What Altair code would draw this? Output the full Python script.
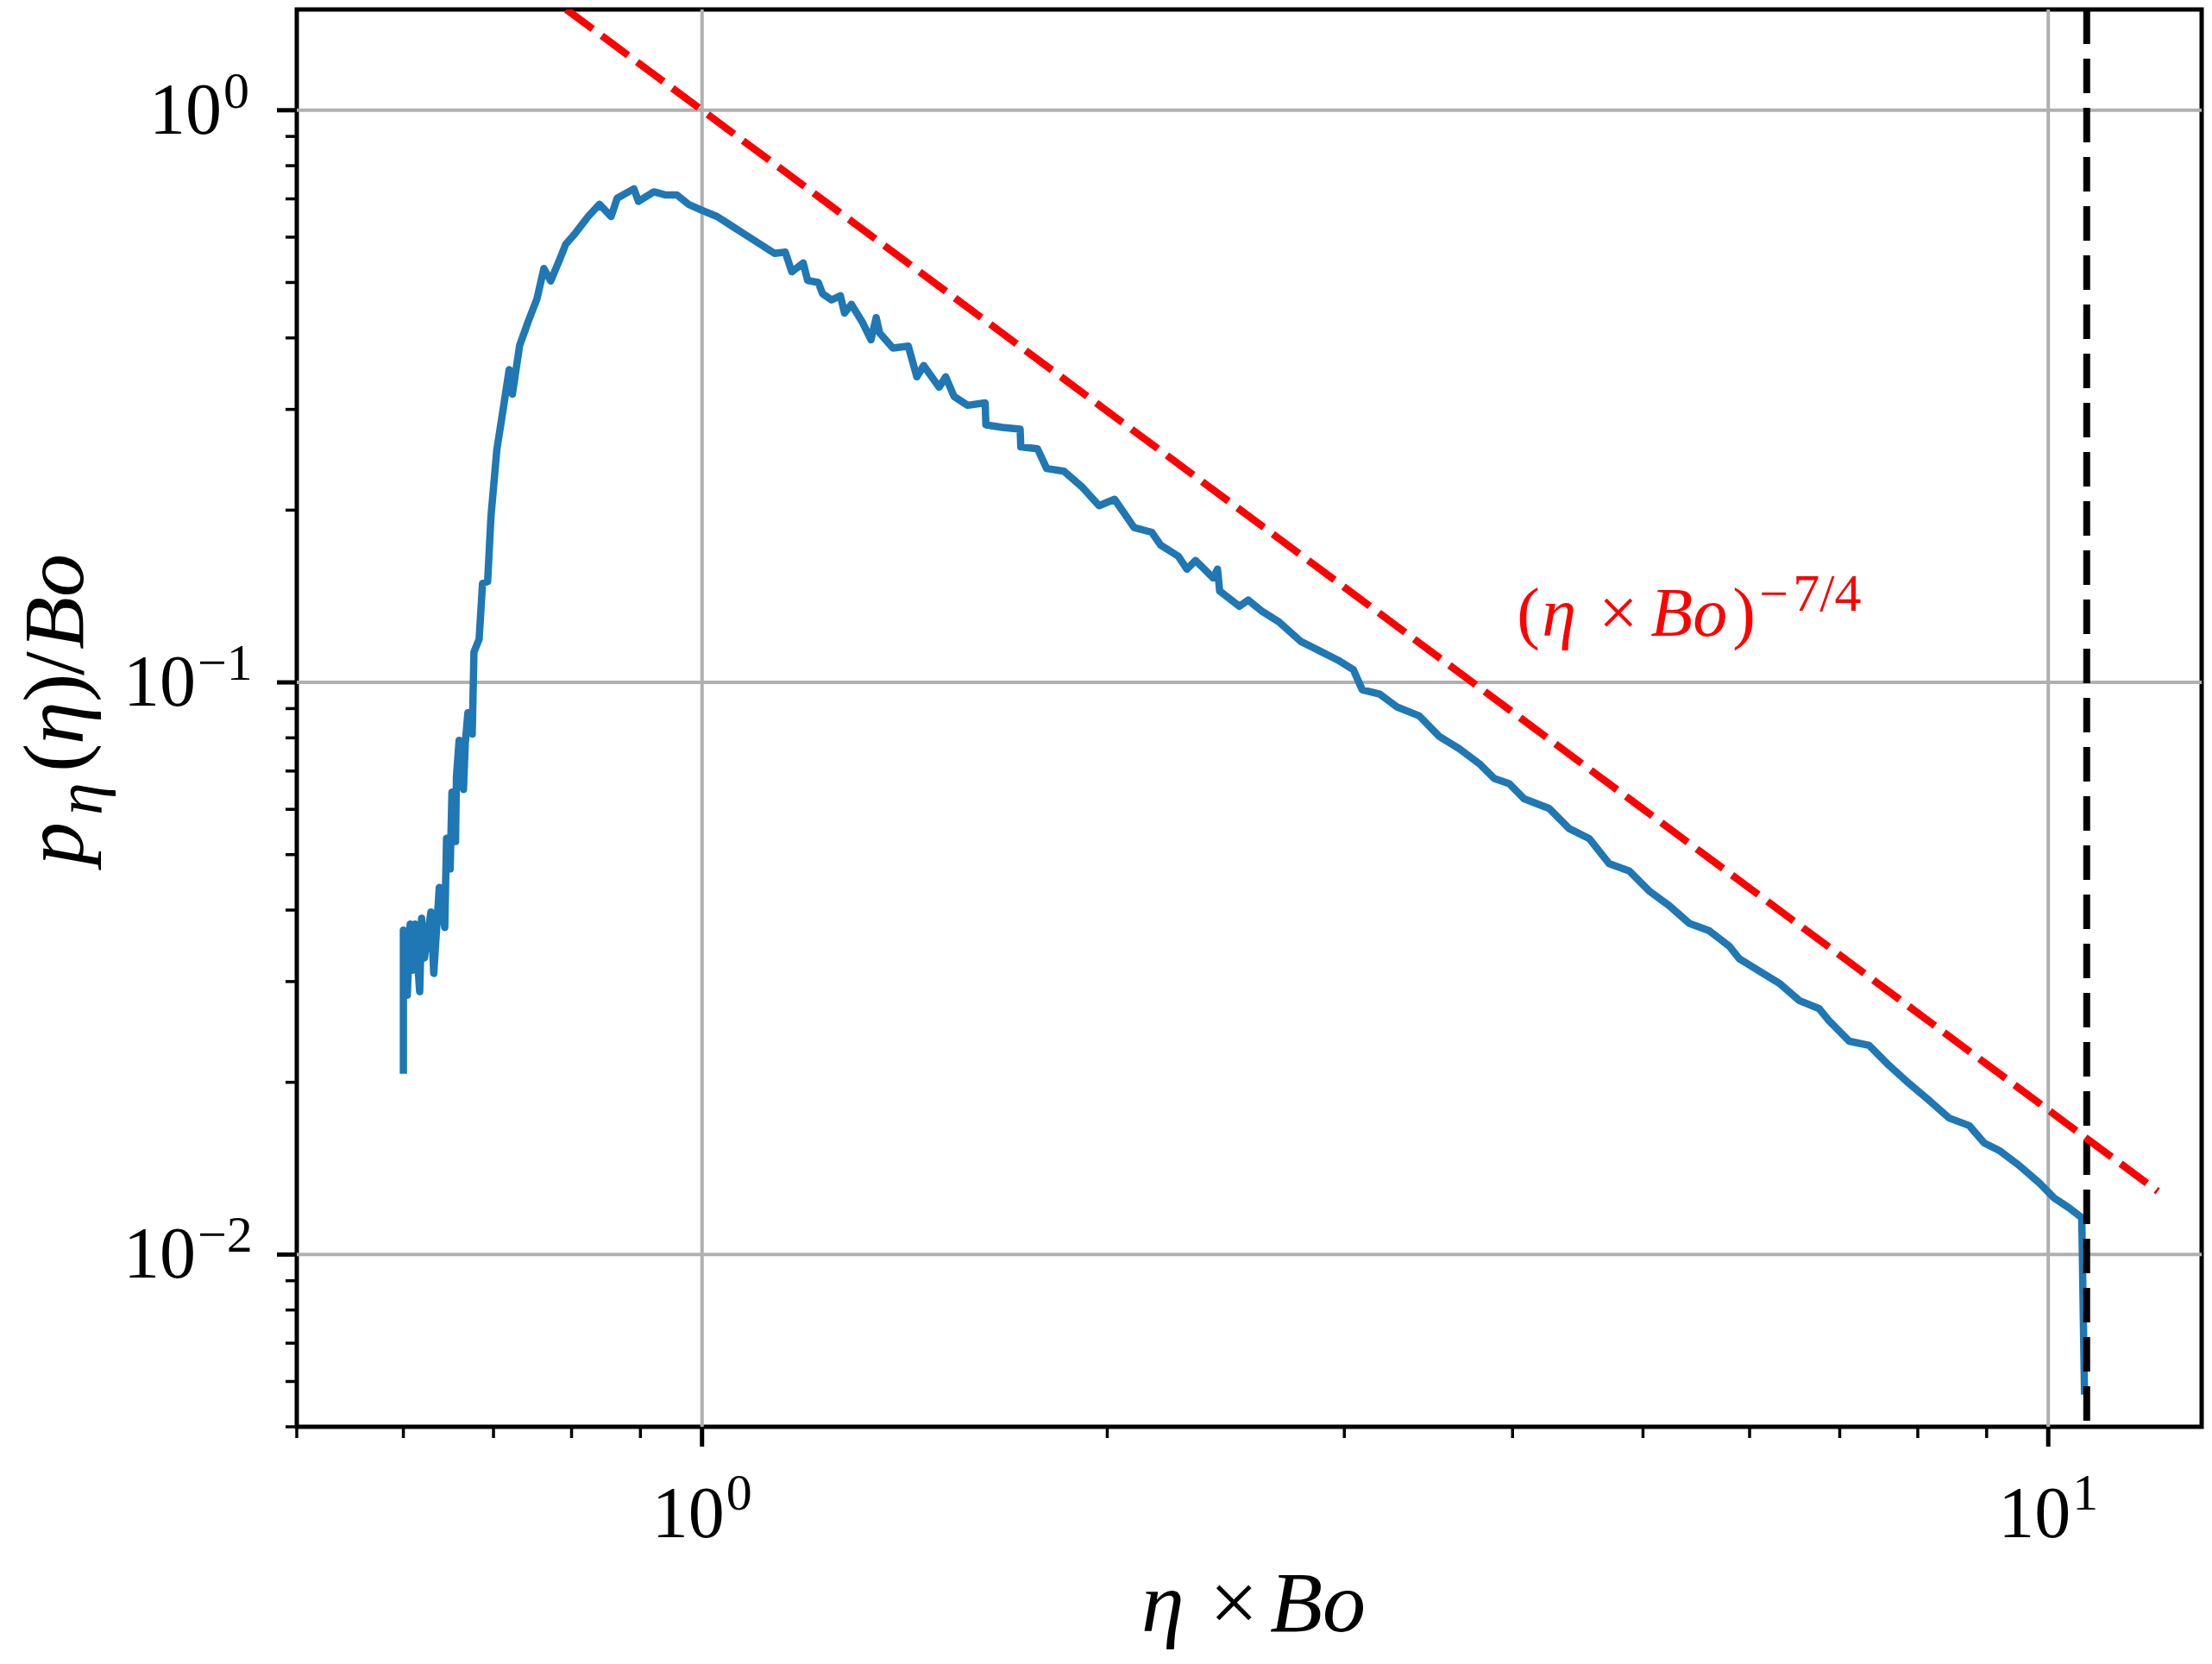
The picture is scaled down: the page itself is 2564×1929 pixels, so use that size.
import altair as alt
import pandas as pd

FONT = "Liberation Serif"

# ---- data ----
blue_x = [0.600, 0.600, 0.604, 0.607, 0.609, 0.612, 0.617, 0.619, 0.622, 0.629,
          0.632, 0.638, 0.644, 0.646, 0.650, 0.652, 0.656, 0.657, 0.660, 0.665,
          0.667, 0.670, 0.675, 0.677, 0.683, 0.687, 0.693, 0.697, 0.704, 0.711,
          0.719, 0.723, 0.732, 0.743, 0.754, 0.763, 0.772, 0.784, 0.792, 0.803,
          0.823, 0.839, 0.856, 0.865, 0.890, 0.897, 0.921, 0.940, 0.958, 0.977,
          1.001, 1.026, 1.052, 1.078, 1.105, 1.132, 1.153, 1.166, 1.189, 1.198,
          1.220, 1.229, 1.248, 1.267, 1.276, 1.291, 1.315, 1.335, 1.347, 1.355,
          1.386, 1.423, 1.444, 1.461, 1.500, 1.517, 1.539, 1.575, 1.623, 1.625,
          1.672, 1.723, 1.725, 1.775, 1.803, 1.857, 1.914, 1.972, 2.025, 2.094,
          2.158, 2.191, 2.258, 2.292, 2.326, 2.397, 2.415, 2.424, 2.507, 2.545,
          2.603, 2.682, 2.785, 2.870, 2.969, 3.047, 3.093, 3.187, 3.285, 3.410,
          3.528, 3.651, 3.779, 3.877, 3.978, 4.080, 4.259, 4.408, 4.562, 4.720,
          4.885, 5.053, 5.230, 5.413, 5.601, 5.795, 5.895, 6.099, 6.312, 6.531,
          6.758, 6.875, 7.115, 7.362, 7.617, 7.882, 8.156, 8.441, 8.736, 8.962,
          9.196, 9.515, 9.847, 10.10, 10.36, 10.59, 10.64]
blue_y = [0.0207, 0.0369, 0.0284, 0.0378, 0.0314, 0.0378, 0.0288, 0.0387, 0.0330, 0.0397,
          0.0310, 0.0438, 0.0373, 0.0534, 0.0472, 0.0643, 0.0527, 0.0683, 0.0792, 0.0650,
          0.0782, 0.0885, 0.0812, 0.113, 0.119, 0.149, 0.150, 0.195, 0.255, 0.296,
          0.352, 0.319, 0.388, 0.428, 0.468, 0.529, 0.503, 0.549, 0.583, 0.605,
          0.652, 0.685, 0.652, 0.702, 0.729, 0.693, 0.720, 0.711, 0.711, 0.685,
          0.668, 0.652, 0.628, 0.605, 0.583, 0.562, 0.565, 0.522, 0.541, 0.504,
          0.500, 0.478, 0.466, 0.474, 0.442, 0.458, 0.427, 0.397, 0.434, 0.408,
          0.384, 0.387, 0.342, 0.358, 0.328, 0.342, 0.316, 0.305, 0.308, 0.282,
          0.279, 0.277, 0.258, 0.256, 0.2365, 0.234, 0.220, 0.2036, 0.209, 0.1864,
          0.183, 0.1738, 0.1662, 0.1577, 0.1633, 0.1522, 0.1577, 0.1444, 0.1358, 0.1393,
          0.1334, 0.1276, 0.1179, 0.1138, 0.1093, 0.1052, 0.0971, 0.0954, 0.0905, 0.0874,
          0.0805, 0.0766, 0.0721, 0.0679, 0.0665, 0.0626, 0.0602, 0.0555, 0.0533, 0.0482,
          0.0468, 0.0432, 0.0407, 0.0379, 0.0368, 0.0346, 0.0329, 0.0313, 0.0298, 0.0278,
          0.0269, 0.0256, 0.0236, 0.0232, 0.0214, 0.0199, 0.0186, 0.01732, 0.0168, 0.01567,
          0.0152, 0.01431, 0.01334, 0.01256, 0.01207, 0.01160, 0.00569]

red_x = [0.793, 12.06]
red_y = [1.50, 0.0129]

vline_x = [10.68]

x_major = [1, 10]
x_major_sup = ["0", "1"]
x_minor = [0.5, 0.6, 0.7, 0.8, 0.9, 2, 3, 4, 5, 6, 7, 8, 9]
y_major = [0.01, 0.1, 1]
y_major_sup = ["\u22122", "\u22121", "0"]
y_minor = [0.005, 0.006, 0.007, 0.008, 0.009,
           0.02, 0.03, 0.04, 0.05, 0.06, 0.07, 0.08, 0.09,
           0.2, 0.3, 0.4, 0.5, 0.6, 0.7, 0.8, 0.9]

ann_x = [4.03]
ann_y = [0.1205]

# ---- layout / style ----
W, H = 2208, 1643
xs = alt.Scale(type="log", domain=[0.5, 13], nice=False)
ys = alt.Scale(type="log", domain=[0.005, 1.5], nice=False)
BLUE = "#1f77b4"
RED = "#ff0000"
GRID = "#b0b0b0"

blue_df = pd.DataFrame({"x": blue_x, "y": blue_y, "i": list(range(len(blue_x)))})
red_df = pd.DataFrame({"x": red_x, "y": red_y})
vline_df = pd.DataFrame({"x": vline_x})

# grid lines at the major ticks
xgrid = alt.Chart(pd.DataFrame({"v": x_major})).mark_rule(color=GRID, strokeWidth=4).encode(
    x=alt.X("v:Q", scale=xs, axis=None))
ygrid = alt.Chart(pd.DataFrame({"v": y_major})).mark_rule(color=GRID, strokeWidth=4).encode(
    y=alt.Y("v:Q", scale=ys, axis=None))

blue = alt.Chart(blue_df).mark_line(color=BLUE, strokeWidth=8.5, strokeJoin="round").encode(
    x=alt.X("x:Q", scale=xs, axis=None),
    y=alt.Y("y:Q", scale=ys, axis=None),
    order="i:Q",
)

vline = alt.Chart(vline_df).mark_rule(color="black", strokeWidth=8, strokeDash=[40, 17]).encode(
    x=alt.X("x:Q", scale=xs, axis=None)
)

red = alt.Chart(red_df).mark_line(color=RED, strokeWidth=8.5, strokeDash=[38, 13], clip=True).encode(
    x=alt.X("x:Q", scale=xs, axis=None),
    y=alt.Y("y:Q", scale=ys, axis=None),
)

# ticks
def xticks(vals, length, width):
    return alt.Chart(pd.DataFrame({"v": vals})).mark_rule(color="black", strokeWidth=width).encode(
        x=alt.X("v:Q", scale=xs, axis=None), y=alt.value(H), y2=alt.value(H + length))

def yticks(vals, length, width):
    return alt.Chart(pd.DataFrame({"v": vals})).mark_rule(color="black", strokeWidth=width).encode(
        y=alt.Y("v:Q", scale=ys, axis=None), x=alt.value(0), x2=alt.value(-length))

ticks = [xticks(x_major, 23, 5), xticks(x_minor, 13, 3.5),
         yticks(y_major, 23, 5), yticks(y_minor, 13, 3.5)]

# tick labels (10 with superscript exponent)
xl_df = pd.DataFrame({"v": x_major, "sup": x_major_sup})
xl_base = alt.Chart(xl_df).mark_text(text="10", font=FONT, fontSize=84, align="right",
                                     baseline="alphabetic", dx=26, color="black").encode(
    x=alt.X("v:Q", scale=xs, axis=None), y=alt.value(H + 128))
xl_sup = alt.Chart(xl_df).mark_text(font=FONT, fontSize=60, align="left",
                                    baseline="alphabetic", dx=28, color="black").encode(
    x=alt.X("v:Q", scale=xs, axis=None), y=alt.value(H + 96), text="sup:N")

yl_df = pd.DataFrame({"v": y_major, "sup": y_major_sup,
                      "bx": [-117 if s != "0" else -87 for s in y_major_sup]})
yl_df["sx"] = yl_df["bx"] + 2
yl_base = alt.Chart(yl_df).mark_text(text="10", font=FONT, fontSize=84, align="right",
                                     baseline="alphabetic", dy=27, color="black").encode(
    y=alt.Y("v:Q", scale=ys, axis=None), x=alt.X("bx:Q", scale=None))
yl_sup = alt.Chart(yl_df).mark_text(font=FONT, fontSize=60, align="left",
                                    baseline="alphabetic", dy=-3, color="black").encode(
    y=alt.Y("v:Q", scale=ys, axis=None), x=alt.X("sx:Q", scale=None), text="sup:N")

one = pd.DataFrame({"a": [0]})

def piece(text, x, y, size, italic, angle=0, color="black"):
    kw = dict(text=text, font=FONT, fontSize=size, align="left", baseline="alphabetic",
              color=color, angle=angle)
    if italic:
        kw["fontStyle"] = "italic"
    return alt.Chart(one).mark_text(**kw).encode(x=alt.value(x), y=alt.value(y))

# x-axis title: eta x Bo
xt_y = H + 237
xtitle = [piece("\u03b7", 979, xt_y, 100, True),
          piece("\u00d7", 1058, xt_y, 100, False),
          piece("Bo", 1128, xt_y, 100, True)]

# y-axis title: p_eta(eta)/Bo (rotated, reads bottom to top)
YB = -248
ytitle = [piece("p", YB, 992, 100, True, 270),
          piece("\u03b7", YB + 22, 934, 76, True, 270),
          piece("(", YB, 884, 100, False, 270),
          piece("\u03b7", YB, 852, 100, True, 270),
          piece(")", YB, 803, 100, False, 270),
          piece("/", YB, 772, 100, False, 270),
          piece("Bo", YB, 742, 100, True, 270)]

# annotation (eta x Bo)^{-7/4}
ann_df = pd.DataFrame({"x": ann_x, "y": ann_y})

def ann_piece(text, dx, dy, size, italic):
    kw = dict(text=text, font=FONT, fontSize=size, align="left", baseline="alphabetic",
              color=RED, dx=dx, dy=dy)
    if italic:
        kw["fontStyle"] = "italic"
    return alt.Chart(ann_df).mark_text(**kw).encode(
        x=alt.X("x:Q", scale=xs, axis=None), y=alt.Y("y:Q", scale=ys, axis=None))

ann = [ann_piece("(", 0, 0, 80, False),
       ann_piece("\u03b7", 29, 0, 80, True),
       ann_piece("\u00d7", 95, 0, 80, False),
       ann_piece("Bo", 155, 0, 80, True),
       ann_piece(")", 250, 0, 80, False),
       ann_piece("\u2212", 281, -29, 60, False),
       ann_piece("7/4", 320, -29, 62, False)]

chart = alt.layer(xgrid, ygrid, blue, vline, red, *ticks, xl_base, xl_sup, yl_base, yl_sup,
                  *xtitle, *ytitle, *ann).properties(
    width=W, height=H,
    autosize=alt.AutoSizeParams(type="none"),
    padding={"left": 336, "top": 3, "right": 4, "bottom": 260},
    background="white",
).configure_view(stroke="black", strokeWidth=5)

chart.save("out.html", embed_options={"renderer": "svg", "actions": False})
